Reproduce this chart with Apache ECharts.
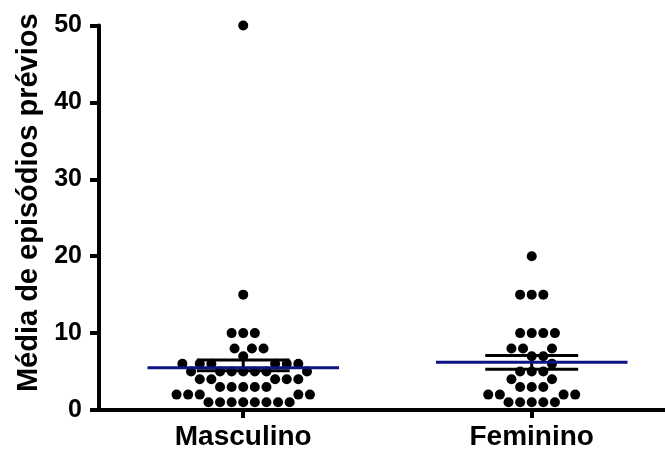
<!DOCTYPE html>
<html>
<head>
<meta charset="utf-8">
<script src="https://cdn.jsdelivr.net/npm/echarts@6/dist/echarts.min.js"></script>
<style>
html, body { margin: 0; padding: 0; background: #fff; }
#main { width: 665px; height: 451px; }
</style>
</head>
<body>
<div id="main"></div>
<script>
var categories = ['Masculino', 'Feminino'];
var yTicks = [0, 10, 20, 30, 40, 50];

// episodios por paciente
var masculino = [1, 1, 1, 1, 1, 1, 1, 1,
	2, 2, 2, 2, 2,
	3, 3, 3, 3, 3,
	4, 4, 4, 4, 4,
	5, 5, 5, 5, 5, 5, 5,
	6, 6, 6, 6, 6, 6,
	7,
	8, 8, 8,
	10, 10, 10,
	15,
	50];
var feminino = [1, 1, 1, 1, 1,
	2, 2, 2, 2,
	3, 3, 3,
	4, 4,
	5, 5, 5,
	6,
	7, 7,
	8, 8, 8,
	10, 10, 10, 10,
	15, 15, 15,
	20];

// media e erro padrao
var meanValues = [5.5, 6.2];
var semLower = [5.1, 5.3];
var semUpper = [6.5, 7.1];

var groups = [masculino, feminino];
var dotDiam = 11.6;

var chart = echarts.init(document.getElementById('main'));

var option = {
	animation : false,
	backgroundColor : '#ffffff',
	grid : {
		left : 99,
		right : 0,
		top : 25.5,
		bottom : 40
	},
	xAxis : {
		type : 'value',
		min : 0.5,
		max : 2.462,
		splitLine : { show : false },
		axisLine : {
			lineStyle : { color : '#000', width : 4 }
		},
		axisTick : {
			customValues : [1, 2],
			length : 8,
			lineStyle : { color : '#000', width : 4 }
		},
		axisLabel : {
			customValues : [1, 2],
			margin : 13,
			color : '#000',
			fontFamily : 'Liberation Sans',
			fontWeight : 'bold',
			fontSize : 28,
			formatter : function(v) {
				return categories[Math.round(v) - 1];
			}
		}
	},
	yAxis : {
		type : 'value',
		min : yTicks[0],
		max : yTicks[yTicks.length - 1],
		interval : 10,
		name : 'Média de episódios prévios',
		nameLocation : 'middle',
		nameRotate : 90,
		nameGap : 56,
		nameTextStyle : {
			color : '#000',
			fontFamily : 'Liberation Sans',
			fontWeight : 'bold',
			fontSize : 29,
			padding : [0, 0, 0, 30]
		},
		splitLine : { show : false },
		axisLine : {
			show : true,
			lineStyle : { color : '#000', width : 4 }
		},
		axisTick : {
			show : true,
			length : 9,
			lineStyle : { color : '#000', width : 4 }
		},
		axisLabel : {
			margin : 17,
			color : '#000',
			fontFamily : 'Liberation Sans',
			fontWeight : 'bold',
			fontSize : 25
		}
	},
	series : []
};

chart.setOption(option);

// beeswarm: desloca cada ponto para o lado ate nao encostar nos outros
function beeswarm(values, pxPerY) {
	var sorted = values.slice().sort(function(a, b) { return a - b; });
	var placed = [];
	for (var i = 0; i < sorted.length; i++) {
		var y = sorted[i] * pxPerY;
		var intervals = [];
		for (var j = 0; j < placed.length; j++) {
			var dy = Math.abs(placed[j].y - y);
			if (dy < dotDiam) {
				var h = Math.sqrt(dotDiam * dotDiam - dy * dy);
				intervals.push([placed[j].x - h, placed[j].x + h]);
			}
		}
		var cands = [0];
		for (var k = 0; k < intervals.length; k++) {
			cands.push(intervals[k][0], intervals[k][1]);
		}
		var best = null;
		for (var c = 0; c < cands.length; c++) {
			var x = cands[c];
			var ok = true;
			for (var k2 = 0; k2 < intervals.length; k2++) {
				if (x > intervals[k2][0] + 0.01 && x < intervals[k2][1] - 0.01) {
					ok = false;
					break;
				}
			}
			if (!ok) continue;
			if (best === null || Math.abs(x) < Math.abs(best) - 0.01
					|| (Math.abs(Math.abs(x) - Math.abs(best)) <= 0.01 && x > best)) {
				best = x;
			}
		}
		placed.push({ x : best, y : y, v : sorted[i] });
	}
	return placed;
}

var pxPerX = chart.convertToPixel({ xAxisIndex : 0 }, 2) - chart.convertToPixel({ xAxisIndex : 0 }, 1);
var pxPerY = chart.convertToPixel({ yAxisIndex : 0 }, 0) - chart.convertToPixel({ yAxisIndex : 0 }, 1);

var dots = [];
for (var g = 0; g < groups.length; g++) {
	var lay = beeswarm(groups[g], pxPerY);
	for (var i = 0; i < lay.length; i++) {
		dots.push([g + 1 + lay[i].x / pxPerX, lay[i].v]);
	}
}

var stats = [];
for (var g = 0; g < categories.length; g++) {
	stats.push([g + 1, meanValues[g], semLower[g], semUpper[g]]);
}

chart.setOption({
	series : [ {
		type : 'scatter',
		symbol : 'circle',
		symbolSize : 10,
		itemStyle : { color : '#000', opacity : 1 },
		data : dots,
		z : 2
	}, {
		type : 'custom',
		z : 5,
		data : stats,
		renderItem : function(params, api) {
			var x = api.value(0);
			var m = api.coord([x, api.value(1)]);
			var lo = api.coord([x, api.value(2)]);
			var hi = api.coord([x, api.value(3)]);
			var half = api.size([0.332, 0])[0];
			var cap = api.size([0.161, 0])[0];
			return {
				type : 'group',
				children : [ {
					type : 'line',
					shape : { x1 : m[0], y1 : hi[1], x2 : m[0], y2 : lo[1] },
					style : { stroke : '#000', lineWidth : 3 }
				}, {
					type : 'line',
					shape : { x1 : m[0] - cap, y1 : hi[1], x2 : m[0] + cap, y2 : hi[1] },
					style : { stroke : '#000', lineWidth : 3 }
				}, {
					type : 'line',
					shape : { x1 : m[0] - cap, y1 : lo[1], x2 : m[0] + cap, y2 : lo[1] },
					style : { stroke : '#000', lineWidth : 3 }
				}, {
					type : 'line',
					shape : { x1 : m[0] - half, y1 : m[1], x2 : m[0] + half, y2 : m[1] },
					style : { stroke : '#0c1483', lineWidth : 3 }
				} ]
			};
		}
	} ]
});
</script>
</body>
</html>
